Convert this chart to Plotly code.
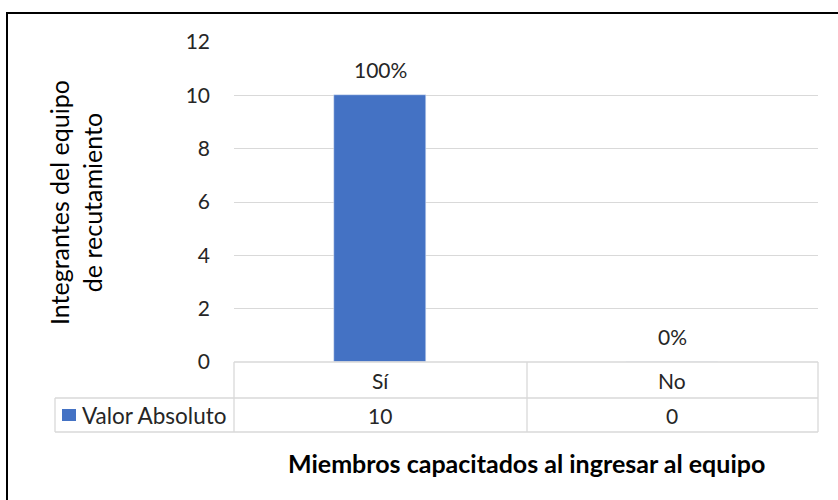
import plotly.graph_objects as go

categories = ["Sí", "No"]
values = [10, 0]
series_name = "Valor Absoluto"
y_ticks = [0, 2, 4, 6, 8, 10, 12]
x_title = "Miembros capacitados al ingresar al equipo"
y_title = "Integrantes del equipo<br>de recutamiento"

total = sum(values)
pct_labels = [f"{round(v / total * 100)}%" for v in values]

W, H = 838, 500
L, R, T, B = 234, 20, 42, 138
pw, ph = W - L - R, H - T - B

def px(x):
    return (x - L) / pw

def py(y):
    return (H - B - y) / ph

FONT = "Lato"
TXT = "#262626"
GRID = "#d9d9d9"
BLUE = "#4472C4"
FS = 21

fig = go.Figure()
fig.add_trace(go.Bar(x=categories, y=values, name=series_name,
                     marker_color=BLUE, width=0.315, showlegend=False))

annotations = []
for c, v, t in zip(categories, values, pct_labels):
    annotations.append(dict(x=c, y=v, xref="x", yref="y", text=t, showarrow=False,
                            yanchor="bottom", yshift=11,
                            font=dict(family=FONT, size=FS, color=TXT)))

# table rows
row1_y = (362 + 398) / 2
row2_y = (398 + 432) / 2
for c, v in zip(categories, values):
    annotations.append(dict(x=c, y=py(row1_y), xref="x", yref="paper", text=c,
                            showarrow=False, yanchor="middle",
                            font=dict(family=FONT, size=FS, color=TXT)))
    annotations.append(dict(x=c, y=py(row2_y), xref="x", yref="paper", text=str(v),
                            showarrow=False, yanchor="middle",
                            font=dict(family=FONT, size=FS, color=TXT)))
annotations.append(dict(x=px(80), y=py(row2_y), xref="paper", yref="paper",
                        text=series_name, showarrow=False, xanchor="left",
                        yanchor="middle", font=dict(family=FONT, size=22.5, color=TXT)))
annotations.append(dict(x=px(526), y=py(463), xref="paper", yref="paper",
                        text="<b>" + x_title + "</b>", showarrow=False,
                        xanchor="center", yanchor="middle",
                        font=dict(family=FONT, size=25, color="#000000")))
annotations.append(dict(x=px(75), y=py(203), xref="paper", yref="paper",
                        text=y_title, showarrow=False, textangle=-90,
                        xanchor="center", yanchor="middle",
                        font=dict(family=FONT, size=25, color="#000000")))

shapes = []
def line(x0, y0, x1, y1, color=GRID, width=1.3):
    shapes.append(dict(type="line", xref="paper", yref="paper",
                       x0=px(x0), y0=py(y0), x1=px(x1), y1=py(y1),
                       line=dict(color=color, width=width)))

line(234, 362, 818, 362)
line(55, 398, 818, 398)
line(55, 432, 818, 432)
line(234, 362, 234, 432)
line(527, 362, 527, 432)
line(818, 362, 818, 432)
line(55, 398, 55, 432)
# legend key
shapes.append(dict(type="rect", xref="paper", yref="paper",
                   x0=px(62), x1=px(76), y0=py(409), y1=py(421),
                   fillcolor=BLUE, line=dict(width=0)))
# outer border
shapes.append(dict(type="rect", xref="paper", yref="paper",
                   x0=px(7), x1=px(850), y0=py(13), y1=py(520),
                   line=dict(color="#000000", width=2), fillcolor="rgba(0,0,0,0)"))

fig.update_layout(
    width=W, height=H,
    margin=dict(l=L, r=R, t=T, b=B),
    paper_bgcolor="white", plot_bgcolor="white",
    bargap=0,
    xaxis=dict(showticklabels=False, showgrid=False, zeroline=False,
               range=[-0.5, 1.5], fixedrange=True),
    yaxis=dict(range=[0, 12], tickvals=y_ticks, showgrid=True, gridcolor=GRID,
               gridwidth=1.3, zeroline=False, ticks="", ticklabelstandoff=23,
               tickfont=dict(family=FONT, size=FS, color=TXT)),
    annotations=annotations,
    shapes=shapes,
)

fig.write_html("out.html", config={"displayModeBar": False},
               post_script="document.body.style.margin='0';document.body.style.overflow='hidden';")
